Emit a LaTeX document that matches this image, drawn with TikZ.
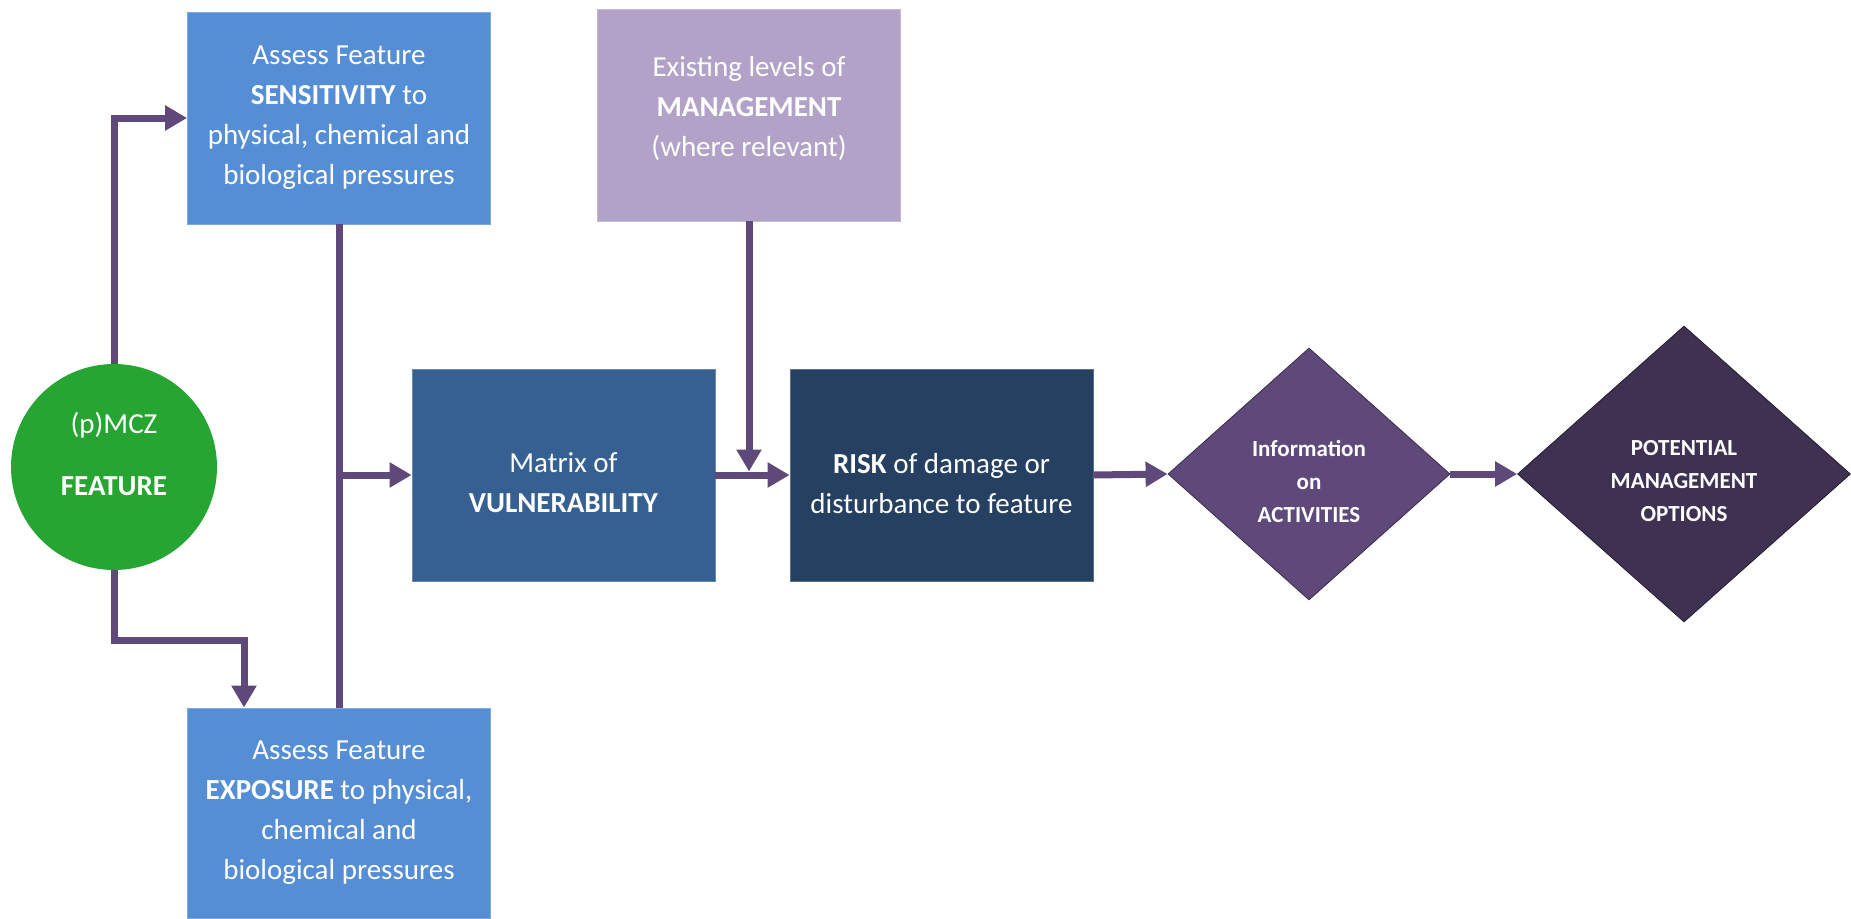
\documentclass[tikz,border=0pt]{standalone}
\usepackage{fontspec}
\setmainfont{Carlito}
\usetikzlibrary{arrows.meta,shapes.geometric}
\definecolor{lblue}{HTML}{558ED5}
\definecolor{mgmtc}{HTML}{B3A2C7}
\definecolor{vulc}{HTML}{376092}
\definecolor{riskc}{HTML}{254061}
\definecolor{dAc}{HTML}{5F497A}
\definecolor{dBc}{HTML}{3F3151}
\definecolor{featc}{HTML}{27A532}
\definecolor{arrc}{HTML}{5F497A}
\tikzset{
  boxnode/.style={rectangle, inner sep=0pt, minimum width=303pt, minimum height=212pt,
    align=center, text=white, font=\fontsize{29}{40}\selectfont, draw=#1!75!white, line width=0.8pt, fill=#1},
  dianode/.style={diamond, inner sep=0pt, align=center, text=white,
    font=\fontsize{23}{33}\selectfont\bfseries, fill=#1, draw=#1!60!black, line width=0.8pt},
  conn/.style={draw=arrc, line width=7pt},
  arr/.style={conn, -{Triangle[length=22pt,width=24pt]}}
}
\begin{document}
\begin{tikzpicture}[x=1pt,y=-1pt]
\useasboundingbox (0,0) rectangle (1851,918);
% nodes
\node[boxnode=lblue] (sens) at (339,118) {Assess Feature\\\textbf{SENSITIVITY} to\\physical, chemical and\\biological pressures};
\node[boxnode=mgmtc] (mgmt) at (749,115) {Existing levels of\\\textbf{MANAGEMENT}\\(where relevant)\\[-22pt]};
\node[boxnode=vulc] (vul) at (563.5,475) {Matrix of\\\textbf{VULNERABILITY}\\[-56pt]};
\node[boxnode=riskc] (risk) at (941.5,475) {\textbf{RISK} of damage or\\disturbance to feature\\[-56pt]};
\node[boxnode=lblue, minimum height=210pt] (exp) at (339,813) {Assess Feature\\\textbf{EXPOSURE} to physical,\\chemical and\\biological pressures};
\node[circle, fill=featc, inner sep=0pt, minimum size=206pt, text=white, align=center,
  font=\fontsize{29}{40}\selectfont] (feat) at (114,467) {(p)MCZ\\[22pt]\textbf{FEATURE}\\[-14pt]};
\node[dianode=dAc, minimum width=282pt, minimum height=252pt] (act) at (1309,474) {Information\\on\\ACTIVITIES\\[-47pt]};
\node[dianode=dBc, minimum width=333pt, minimum height=296pt] (opt) at (1684,474) {POTENTIAL\\MANAGEMENT\\OPTIONS\\[-47pt]};
% connectors
\coordinate (e1) at (244,640);
\draw[arr] (feat.north) |- (sens.west);
\draw[arr] (feat.south) |- (e1) -- (exp.north -| e1);
\draw[conn] (sens.south) -- (exp.north);
\draw[arr] (sens.south |- vul.west) -- (vul.west);
\draw[arr] (vul.east) -- (risk.west);
\draw[arr, shorten >=3.5pt] (mgmt.south) -- (mgmt.south |- risk.west);
\draw[arr] (risk.east) -- (act.west);
\draw[arr] (act.east) -- (opt.west);
\end{tikzpicture}
\end{document}
